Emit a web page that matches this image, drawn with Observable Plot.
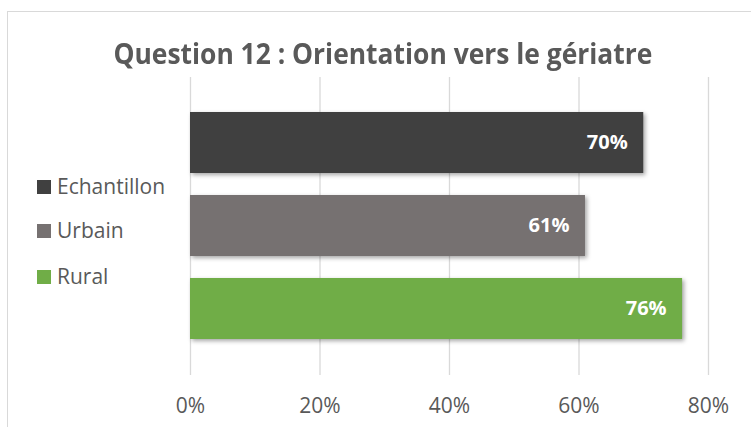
<!DOCTYPE html>
<html>
<head>
<meta charset="utf-8">
<script src="https://cdn.jsdelivr.net/npm/d3@7"></script>
<script src="https://cdn.jsdelivr.net/npm/@observablehq/plot@0.6"></script>
<style>
  html, body { margin: 0; padding: 0; background: #fff; }
  #wrap { position: relative; width: 751px; height: 427px; overflow: hidden; font-family: "Open Sans", sans-serif; }
  #border { position: absolute; left: 7px; top: 11px; width: 800px; height: 500px; border: 1.5px solid #d9d9d9; box-sizing: border-box; }
  #title { position: absolute; left: 0; top: 0; width: 751px; text-align: center; }
  #title span { display: inline-block; font-weight: bold; font-size: 29px; color: #595959; white-space: nowrap; position: absolute; top: 33px; transform-origin: center center; }
  #legend { position: absolute; left: 37px; top: 0; }
  .item { position: absolute; left: 0; white-space: nowrap; color: #595959; font-size: 21px; line-height: 1; }
  .sw { position: absolute; left: 0; width: 14px; height: 14px; }
  .lab { position: absolute; left: 20px; }
  #chart { position: absolute; left: 0; top: 0; }
</style>
</head>
<body>
<div id="wrap">
  <div id="border"></div>
  <div id="chart"></div>
  <div id="title"><span id="tspan">Question 12 : Orientation vers le gériatre</span></div>
  <div id="legend"></div>
</div>
<script>
const categories = ["Echantillon", "Urbain", "Rural"];
const values = [0.70, 0.61, 0.76];
const colors = ["#404040", "#767171", "#70AD47"];
const xTicks = [0, 0.2, 0.4, 0.6, 0.8];
const legendCenters = [187, 231, 277];

const data = categories.map((c, i) => ({cat: c, value: values[i]}));
const pct = d3.format(".0%");

const svg = Plot.plot({
  width: 751,
  height: 427,
  marginLeft: 190,
  marginRight: 43,
  marginTop: 77,
  marginBottom: 52,
  x: {domain: [0, 0.8], ticks: xTicks, tickFormat: pct, tickSize: 0, tickPadding: 23, label: null},
  y: {domain: categories, range: [112, 340], paddingInner: 0.26, paddingOuter: 0, axis: null},
  color: {domain: categories, range: colors},
  style: {fontFamily: "Open Sans", fontSize: "21px", color: "#595959", background: "transparent"},
  marks: [
    Plot.ruleX(xTicks, {x: d => d, stroke: "#d9d9d9", strokeWidth: 1.3}),
    Plot.barX(data, {x: "value", y: "cat", fill: "cat"}),
    Plot.text(data, {x: "value", y: "cat", text: d => pct(d.value), textAnchor: "end", dx: -16, fill: "white", fontWeight: "bold", fontSize: 20})
  ]
});
d3.select(svg).selectAll('g[aria-label="bar"]').style("filter", "drop-shadow(2px 2px 2px rgba(0,0,0,0.35))");
document.getElementById("chart").appendChild(svg);

// title: fit to measured width in reference
const ts = document.getElementById("tspan");
const w = ts.getBoundingClientRect().width;
const target = 539;
ts.style.left = (383 - w / 2) + "px";
ts.style.transform = `scaleX(${target / w})`;

// legend
const leg = document.getElementById("legend");
categories.forEach((c, i) => {
  const it = document.createElement("div");
  it.className = "item";
  it.style.top = (legendCenters[i] - 7) + "px";
  const sw = document.createElement("div");
  sw.className = "sw";
  sw.style.background = colors[i];
  const lab = document.createElement("div");
  lab.className = "lab";
  lab.textContent = c;
  lab.style.top = "-4px";
  it.appendChild(sw);
  it.appendChild(lab);
  leg.appendChild(it);
});
</script>
</body>
</html>
